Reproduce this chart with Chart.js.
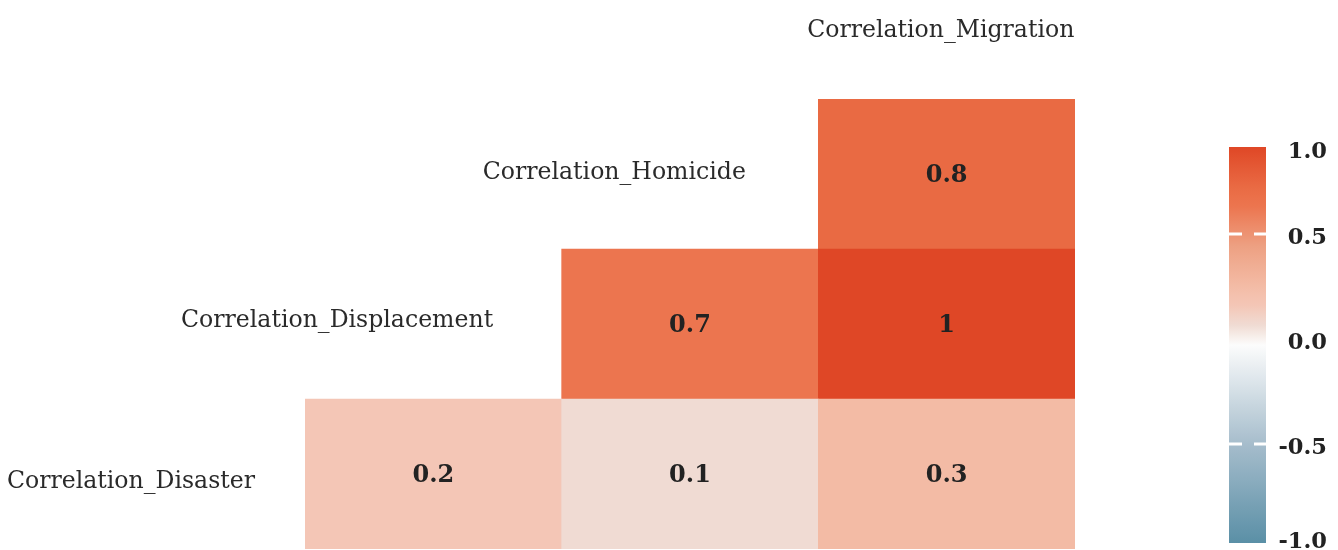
<!DOCTYPE html>
<html>
<head>
<meta charset="utf-8">
<script src="https://cdn.jsdelivr.net/npm/chart.js@4"></script>
<style>
  html, body { margin: 0; padding: 0; background: #ffffff; }
  #wrap { width: 1338px; height: 550px; position: relative; }
</style>
</head>
<body>
<div id="wrap"><canvas id="c" width="1338" height="550"></canvas></div>
<script>
// ---- data ----
const columns = ['Displacement', 'Homicide', 'Migration'];
const rows = ['Disaster', 'Displacement', 'Homicide'];
const disasterValues = [0.2, 0.1, 0.3];
const displacementValues = [null, 0.7, 1];
const homicideValues = [null, null, 0.8];
const axisLabels = ['Correlation_Disaster', 'Correlation_Displacement', 'Correlation_Homicide', 'Correlation_Migration'];
const colorbarTicks = [1, 0.5, 0, -0.5, -1];
const colorbarTickLabels = ['1.0', '0.5', '0.0', '-0.5', '-1.0'];

// ---- style ----
const colorStops = [
  [-1.0, [90, 143, 166]],
  [-0.5, [166, 189, 204]],
  [0.0, [252, 252, 252]],
  [0.1, [240, 219, 211]],
  [0.2, [244, 198, 182]],
  [0.3, [243, 187, 165]],
  [0.5, [237, 160, 130]],
  [0.7, [236, 117, 79]],
  [0.8, [233, 106, 67]],
  [1.0, [223, 71, 38]]
];
function colorFor(v) {
  if (v <= colorStops[0][0]) return rgb(colorStops[0][1]);
  for (let i = 1; i < colorStops.length; i++) {
    const [v1, c1] = colorStops[i];
    const [v0, c0] = colorStops[i - 1];
    if (v <= v1) {
      const t = (v - v0) / (v1 - v0);
      return rgb(c0.map((c, k) => c + (c1[k] - c) * t));
    }
  }
  return rgb(colorStops[colorStops.length - 1][1]);
}
function rgb(a) { return 'rgb(' + a.map(x => Math.round(x)).join(',') + ')'; }

const rowValues = [disasterValues, displacementValues, homicideValues];
const datasets = rowValues.map((vals, r) => ({
  label: rows[r],
  data: vals.map(v => v === null ? null : [r - 0.5, r + 0.5]),
  values: vals,
  backgroundColor: vals.map(v => v === null ? 'rgba(0,0,0,0)' : colorFor(v)),
  borderWidth: 0,
  grouped: false,
  barPercentage: 1,
  categoryPercentage: 1
}));

// label anchors (x in column units, y in row units, baseline)
const labelAnchors = [
  { x: -1.178, y: -0.093 },
  { x: -0.375, y: 0.98 },
  { x: 0.705, y: 1.967 },
  { x: 1.977, y: 2.913 }
];

const labelFont = '23.6px "DejaVu Serif"';
const valueFont = 'bold 24px "DejaVu Serif"';
const textColor = '#2a2a2a';

const heatPlugin = {
  id: 'heatText',
  afterDatasetsDraw(chart) {
    const ctx = chart.ctx;
    const xs = chart.scales.x, ys = chart.scales.y;
    ctx.save();
    // values in cells
    ctx.font = valueFont;
    ctx.fillStyle = '#222222';
    ctx.textAlign = 'center';
    ctx.textBaseline = 'alphabetic';
    chart.data.datasets.forEach((ds, di) => {
      const meta = chart.getDatasetMeta(di);
      meta.data.forEach((el, i) => {
        const v = ds.values[i];
        if (v === null) return;
        const p = el.getCenterPoint();
        ctx.fillText(String(v), p.x, p.y + 8);
      });
    });
    // axis labels
    ctx.font = labelFont;
    ctx.fillStyle = textColor;
    axisLabels.forEach((t, i) => {
      const a = labelAnchors[i];
      ctx.fillText(t, xs.getPixelForValue(a.x), ys.getPixelForValue(a.y));
    });
    ctx.restore();
  },
  afterDraw(chart) {
    // colorbar
    const ctx = chart.ctx;
    const left = 1229, right = 1266, top = 147, bottom = 543;
    const grad = ctx.createLinearGradient(0, top, 0, bottom);
    for (let k = 0; k <= 40; k++) {
      const v = 1 - 2 * k / 40;
      grad.addColorStop(k / 40, colorFor(v));
    }
    ctx.save();
    ctx.fillStyle = grad;
    ctx.fillRect(left, top, right - left, bottom - top);
    const zero = 339, perUnit = 210;
    const pix = v => zero - perUnit * v;
    // dashed ticks
    ctx.strokeStyle = '#ffffff';
    ctx.lineWidth = 3;
    ctx.setLineDash([13, 12]);
    colorbarTicks.forEach(v => {
      const y = pix(v);
      if (y <= top + 2 || y >= bottom - 2) return;
      if (v === 0) return;
      ctx.beginPath();
      ctx.moveTo(left, y);
      ctx.lineTo(right, y);
      ctx.stroke();
    });
    ctx.setLineDash([]);
    // labels
    ctx.font = 'bold 22.5px "DejaVu Serif"';
    ctx.fillStyle = '#222222';
    ctx.textAlign = 'right';
    ctx.textBaseline = 'middle';
    colorbarTicks.forEach((v, i) => {
      let y = pix(v) + 4;
      y = Math.max(top + 5, Math.min(bottom - 1, y));
      ctx.fillText(colorbarTickLabels[i], 1327, y);
    });
    ctx.restore();
  }
};

new Chart(document.getElementById('c'), {
  type: 'bar',
  data: { labels: columns, datasets },
  options: {
    responsive: false,
    animation: false,
    layout: { padding: { left: 305, right: 263, top: 99, bottom: 1 } },
    scales: {
      x: { display: false, offset: true },
      y: { display: false, min: -0.5, max: 2.5 }
    },
    plugins: { legend: { display: false }, tooltip: { enabled: false } }
  },
  plugins: [heatPlugin]
});
</script>
</body>
</html>
